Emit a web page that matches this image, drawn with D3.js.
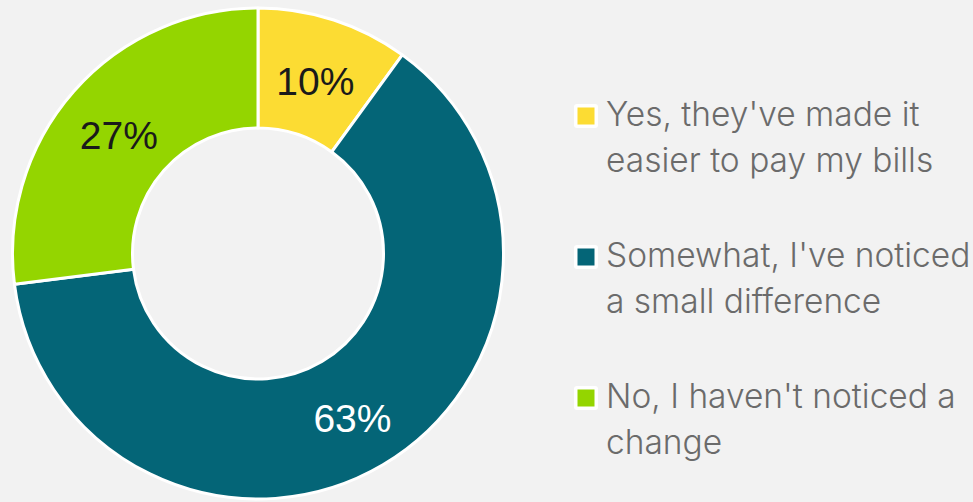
<!DOCTYPE html>
<html>
<head>
<meta charset="utf-8">
<script src="https://cdn.jsdelivr.net/npm/d3@7/dist/d3.min.js"></script>
<style>
  html, body { margin: 0; padding: 0; background: #f2f2f2; }
  svg { display: block; }
</style>
</head>
<body>
<svg id="chart" width="973" height="502"></svg>
<script>
// Survey answers and their shares (percent)
const categories = [
  "Yes, they've made it easier to pay my bills",
  "Somewhat, I've noticed a small difference",
  "No, I haven't noticed a change"
];
const legendLines = [
  ["Yes, they've made it", "easier to pay my bills"],
  ["Somewhat, I've noticed", "a small difference"],
  ["No, I haven't noticed a", "change"]
];
const values = [10, 63, 27];
const colors = ["#fcdc33", "#046577", "#94d500"];
const labelColors = ["#1a1a1a", "#ffffff", "#1a1a1a"];

const svg = d3.select("#chart");
const W = 973, H = 502;

svg.append("rect").attr("width", W).attr("height", H).attr("fill", "#f2f2f2");

const cx = 258, cy = 253.5;
const outerR = 245.5, innerR = 125.5;

const pie = d3.pie().sort(null).value(d => d.value);
const arc = d3.arc().innerRadius(innerR).outerRadius(outerR);
const midR = (innerR + outerR) / 2;
const labelArc = d3.arc().innerRadius(midR).outerRadius(midR);

const data = categories.map((c, i) => ({ category: c, value: values[i], color: colors[i], label: labelColors[i] }));
const arcs = pie(data);

const g = svg.append("g").attr("transform", `translate(${cx},${cy})`);

g.selectAll("path.slice")
  .data(arcs)
  .join("path")
  .attr("class", "slice")
  .attr("d", arc)
  .attr("fill", d => d.data.color)
  .attr("stroke", "#ffffff")
  .attr("stroke-width", 3)
  .attr("stroke-linejoin", "round");

g.selectAll("text.pct")
  .data(arcs)
  .join("text")
  .attr("class", "pct")
  .attr("transform", d => `translate(${labelArc.centroid(d)})`)
  .attr("text-anchor", "middle")
  .attr("dy", "0.47em")
  .attr("font-family", "'Liberation Sans', Arial, sans-serif")
  .attr("font-size", 39)
  .attr("fill", d => d.data.label)
  .text(d => `${d.data.value}%`);

// Legend on the right
const legendX = 574, legendY0 = 104, entryGap = 141, lineGap = 45.5;
const legend = svg.append("g").attr("class", "legend");

const items = legend.selectAll("g.item")
  .data(data)
  .join("g")
  .attr("class", "item")
  .attr("transform", (d, i) => `translate(${legendX},${legendY0 + i * entryGap})`);

items.append("rect")
  .attr("x", 0).attr("y", 0)
  .attr("width", 24).attr("height", 24)
  .attr("rx", 3)
  .attr("fill", "#ffffff");

items.append("rect")
  .attr("x", 3.5).attr("y", 3.5)
  .attr("width", 17).attr("height", 17)
  .attr("fill", d => d.color);

items.each(function(d, i) {
  const t = d3.select(this).append("text")
    .attr("font-family", "Inter, 'Open Sans', sans-serif")
    .attr("font-size", 33.5)
    .attr("font-weight", 300)
    .attr("fill", "#6b6b6b");
  legendLines[i].forEach((line, k) => {
    t.append("tspan").attr("x", 32).attr("y", 22 + k * lineGap).text(line);
  });
});
</script>
</body>
</html>
